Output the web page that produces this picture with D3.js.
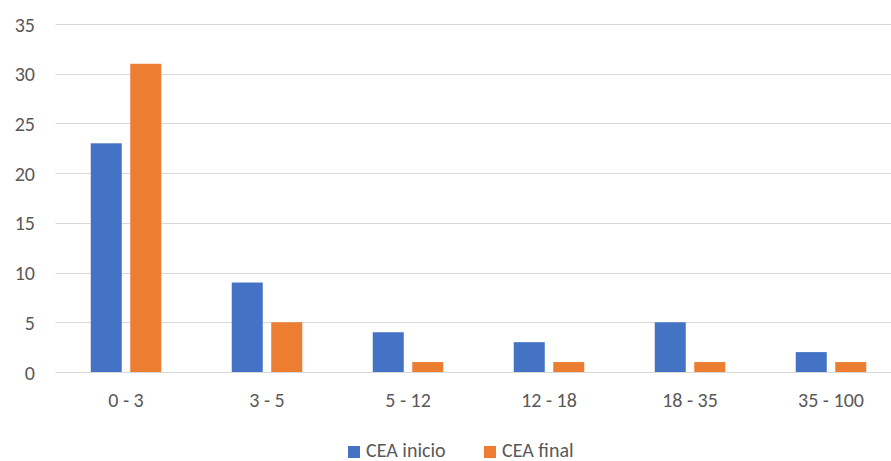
<!DOCTYPE html>
<html>
<head>
<meta charset="utf-8">
<script src="https://cdn.jsdelivr.net/npm/d3@7"></script>
<style>
  html, body { margin: 0; padding: 0; background: #fff; }
  svg { display: block; }
  text { font-family: Calibri, Carlito, "Open Sans", "Noto Sans", sans-serif; fill: #595959; }
</style>
</head>
<body>
<svg id="chart" width="891" height="461"></svg>
<script>
const categories = ["0 - 3", "3 - 5", "5 - 12", "12 - 18", "18 - 35", "35 - 100"];
const seriesNames = ["CEA inicio", "CEA final"];
const inicioValues = [23, 9, 4, 3, 5, 2];
const finalValues = [31, 5, 1, 1, 1, 1];
const yTicks = [0, 5, 10, 15, 20, 25, 30, 35];
const colors = ["#4472C4", "#ED7D31"];

const svg = d3.select("#chart");
const plot = { left: 55.5, right: 901.5, top: 24, bottom: 372 };

const x = d3.scaleBand().domain(categories).range([plot.left, plot.right]).paddingInner(0.5).paddingOuter(0.25);
const xs = d3.scaleBand().domain(seriesNames).range([0, x.bandwidth()]).paddingInner(0.215);
const y = d3.scaleLinear().domain([0, 35]).range([plot.bottom, plot.top]);

// horizontal gridlines
svg.append("g")
  .selectAll("line")
  .data(yTicks)
  .join("line")
  .attr("x1", plot.left)
  .attr("x2", plot.right)
  .attr("y1", d => Math.round(y(d)) + 0.5)
  .attr("y2", d => Math.round(y(d)) + 0.5)
  .attr("stroke", "#d9d9d9")
  .attr("stroke-width", 1);

// y axis labels
const yAxis = d3.axisLeft(y).tickValues(yTicks).tickSize(0).tickPadding(0);
svg.append("g")
  .attr("transform", `translate(35,0)`)
  .call(yAxis)
  .call(g => g.select(".domain").remove())
  .call(g => g.selectAll("text").attr("font-size", 20).attr("font-family", null).attr("dy", "0.35em"));

// bars
const rows = categories.map((c, i) => ({ cat: c, vals: [inicioValues[i], finalValues[i]] }));
svg.append("g")
  .selectAll("g")
  .data(rows)
  .join("g")
  .attr("transform", d => `translate(${x(d.cat)},0)`)
  .selectAll("rect")
  .data(d => d.vals.map((v, k) => ({ name: seriesNames[k], v, k })))
  .join("rect")
  .attr("x", d => xs(d.name))
  .attr("width", xs.bandwidth())
  .attr("y", d => y(d.v))
  .attr("height", d => y(0) - y(d.v))
  .attr("fill", d => colors[d.k]);

// x axis labels
const xAxis = d3.axisBottom(x).tickSize(0).tickPadding(0);
svg.append("g")
  .attr("transform", `translate(0,${plot.bottom + 21})`)
  .call(xAxis)
  .call(g => g.select(".domain").remove())
  .call(g => g.selectAll("text").attr("font-size", 20).attr("font-family", null).attr("dy", "0.71em"));

// legend
const legendItems = [
  { name: seriesNames[0], color: colors[0], x: 348 },
  { name: seriesNames[1], color: colors[1], x: 484 }
];
const lg = svg.append("g");
lg.selectAll("rect")
  .data(legendItems)
  .join("rect")
  .attr("x", d => d.x)
  .attr("y", 446)
  .attr("width", 12)
  .attr("height", 12)
  .attr("fill", d => d.color);
lg.selectAll("text")
  .data(legendItems)
  .join("text")
  .attr("x", d => d.x + 18)
  .attr("y", 457)
  .attr("font-size", 20)
  .text(d => d.name);
</script>
</body>
</html>
